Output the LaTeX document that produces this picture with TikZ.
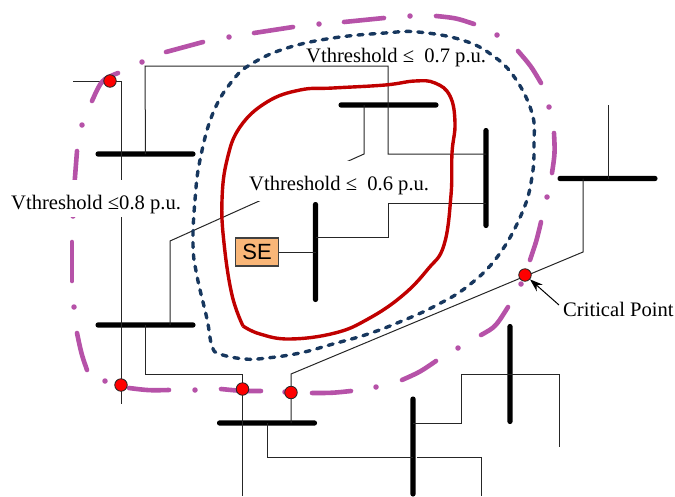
\documentclass[tikz,border=0pt]{standalone}
\usepackage{fontspec}
\setmainfont{Liberation Serif}
\setsansfont{Liberation Sans}
\usetikzlibrary{arrows.meta}
\definecolor{pinkc}{HTML}{B652A8}
\definecolor{bluec}{HTML}{17375E}
\definecolor{redc}{HTML}{C00000}
\definecolor{sefill}{HTML}{F9B678}
\tikzset{
  hbus/.style={rectangle,rounded corners=2.4pt,fill=black,minimum width=100pt,minimum height=5.2pt,inner sep=0pt},
  vbus/.style={rectangle,rounded corners=2.4pt,fill=black,minimum width=5.2pt,minimum height=100pt,inner sep=0pt},
  wire/.style={draw=black!85,line width=1pt},
  pinkdash/.style={draw=pinkc,line width=4.6pt,line cap=round},
  pinkdot/.style={circle,fill=pinkc,inner sep=0pt,minimum size=5.5pt},
  crit/.style={circle,draw=black!85,fill=red,line width=0.8pt,inner sep=0pt,minimum size=12.5pt},
  lab/.style={inner sep=0pt,anchor=base west,font=\fontsize{20.6}{24}\selectfont},
}
\begin{document}
\begin{tikzpicture}[x=1pt,y=-1pt]
\useasboundingbox (0,0) rectangle (675,496);
% coordinates of bends and free ends
\coordinate (a0) at (73,81);
\coordinate (a1) at (121,81);
\coordinate (a2) at (121,404);
\coordinate (c1) at (145,66);
\coordinate (c2) at (388,66);
\coordinate (c3) at (388,154);
\coordinate (d1) at (364,154);
\coordinate (d2) at (170,241);
\coordinate (e1) at (145,374);
\coordinate (e2) at (242.5,374);
\coordinate (e3) at (242.5,496);
\coordinate (f1) at (291,374);
\coordinate (f2) at (583,252);
\coordinate (g1) at (608,105);
\coordinate (h1) at (267,457);
\coordinate (h2) at (481,457);
\coordinate (h3) at (481,496);
\coordinate (h4) at (417,457);
\coordinate (i1) at (461,423);
\coordinate (i2) at (461,374);
\coordinate (i3) at (559,374);
\coordinate (i4) at (559,447);
\coordinate (j1) at (388,237);
\coordinate (j2) at (388,203);
% buses
\node[hbus] (b1) at (145.5,154) {};
\node[hbus] (b2) at (388.5,105) {};
\node[vbus] (b3) at (486,178) {};
\node[vbus] (b4) at (315.5,252) {};
\node[hbus] (b5) at (607.5,178.5) {};
\node[hbus] (b6) at (145.5,325) {};
\node[hbus] (b7) at (267,423) {};
\node[vbus] (b8) at (510,374) {};
\node[vbus] (b9) at (413,446.5) {};
\node[rectangle,draw=black!75,fill=sefill,line width=1.3pt,minimum width=43pt,minimum height=28pt,inner sep=0pt,font=\sffamily\fontsize{22}{24}\selectfont] (se) at (257,252) {SE};
% wires
\draw[wire] (a0) -- (a1) -- (a2);
\draw[wire] (b1.center) -- (c1) -- (c2) -- (c3) -- (c3 -| b3.center);
\draw[wire] (b2.center -| d1) -- (d1) -- (d2) -- (d2 |- b6.center);
\draw[wire] (b6.center -| e1) -- (e1) -- (e2) -- (e3);
\draw[wire] (b7.center -| f1) -- (f1) -- (f2) -- (f2 |- b5.center);
\draw[wire] (b5.center -| g1) -- (g1);
\draw[wire] (b7.center) -- (h1) -- (h1 -| b9.center);
\draw[wire] (h4) -- (h2) -- (h3);
\draw[wire] (b9.center |- i1) -- (i1) -- (i2) -- (i3) -- (i4);
\draw[wire] (se.east) -- (se.east -| b4.center);
\draw[wire] (b4.center |- j1) -- (j1) -- (j2) -- (j2 -| b3.center);
% pink limit: start / control / end of each long dash
\foreach \xa/\ya/\xc/\yc/\xb/\yb in {
  92/101/101.6/79.6/118/73, 166/52/184/46.5/203/42, 254/33/273/29.5/293/27, 344/22/364/19.5/384/18,
  436/16/456/18/474/24, 518/51/531/66/541/83, 554/133/555/153/552/173, 541/222/536.5/241/530/260,
  508/307/495.5/327/481/335, 436/361/420/372/402/380, 351/391/332/393/312/393, 261/391/241/391/221/389,
  169/390/149/390.5/129/388, 87/370/81.4/354/77/333, 72/281/71.5/261/72/242, 74/190/75/170/77/151}
  \draw[pinkdash] (\xa,\ya) .. controls (\xc,\yc) .. (\xb,\yb);
\foreach \x/\y in {82/125,142/62,229/37,319/24,410/16,497/35,549/107,547/197,521/284,458/348,376/387,285/392,195/390,105/381,74/307,73/216}
  \node[pinkdot] at (\x,\y) {};
% dashed blue limit
\draw[bluec,line width=3.4pt,line cap=round,dash pattern=on 5pt off 7pt]
  plot[smooth cycle,tension=0.7] coordinates {(193,245)(195,200)(200,160)(213,113)(233,80)(253,63)(287,48)(333,38)(385,33)(418,32)(462,40)(492,55)(515,78)(532,113)(534,143)(532,177)(522,213)(498,256)(468,286)(435,306)(402,321)(368,334)(333,344)(300,353)(267,358)(245,359)(220,354)(212,346)(207,319)(197,276)};
% red limit
\draw[redc,line width=3.4pt,line join=round]
  plot[smooth,tension=0.7] coordinates {(243,326)(260,334)(290,339)(335,333)(368,319)(402,296)(428,269)(444,245)(451,195)(452,153)(455,123)(450,96)(435,83)(415,81)(385,85)(333,88)(300,90)(267,102)(240,127)(227,160)(222,200)(224,243)(232,295)(243,326)};
% labels
\node[lab,fill=white,text height=29pt,text depth=8pt] (t8) at (11,209) {Vthreshold ≤0.8 p.u.};
\node[lab,fill=white,text height=29pt,text depth=11pt] (t6) at (249,190) {Vthreshold ≤\hspace{5pt} 0.6 p.u.};
\node[lab] (t7) at (306,62) {Vthreshold ≤\hspace{5pt} 0.7 p.u.};
\node[lab] (tc) at (563,316) {Critical Point};
% critical points
\node[crit] (r1) at (110,81) {};
\node[crit] (r2) at (121,385) {};
\node[crit] (r3) at (242.5,389) {};
\node[crit] (r4) at (291,392.5) {};
\node[crit] (r5) at (525,275) {};
\coordinate (arr) at (559,305);
\draw[-{Stealth[length=13pt,width=9pt]},black,line width=1pt] (arr) -- (r5);
\end{tikzpicture}
\end{document}
